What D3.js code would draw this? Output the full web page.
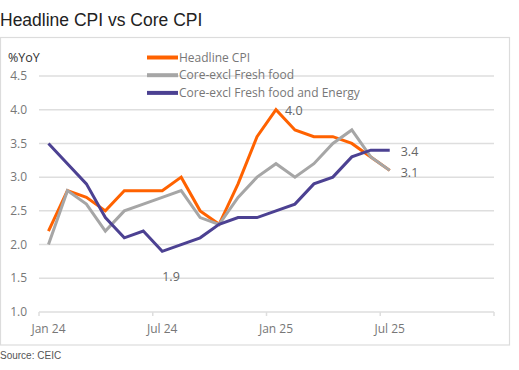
<!DOCTYPE html>
<html>
<head>
<meta charset="utf-8">
<script src="https://cdn.jsdelivr.net/npm/d3@7"></script>
<style>
  body { margin: 0; background: #fff; }
  svg text { font-family: "Open Sans", "Liberation Sans", sans-serif; }
</style>
</head>
<body>
<div id="chart"></div>
<script>
// Monthly data, Jan 24 .. Jul 25
const months = ["Jan 24","Feb 24","Mar 24","Apr 24","May 24","Jun 24","Jul 24","Aug 24","Sep 24","Oct 24","Nov 24","Dec 24",
                "Jan 25","Feb 25","Mar 25","Apr 25","May 25","Jun 25","Jul 25"];
const headline = [2.2,2.8,2.7,2.5,2.8,2.8,2.8,3.0,2.5,2.3,2.9,3.6,4.0,3.7,3.6,3.6,3.5,3.3,3.1];
const coreExFresh = [2.0,2.8,2.6,2.2,2.5,2.6,2.7,2.8,2.4,2.3,2.7,3.0,3.2,3.0,3.2,3.5,3.7,3.3,3.1];
const coreExEnergy = [3.5,3.2,2.9,2.4,2.1,2.2,1.9,2.0,2.1,2.3,2.4,2.4,2.5,2.6,2.9,3.0,3.3,3.4,3.4];

const yTicks = [1.0,1.5,2.0,2.5,3.0,3.5,4.0,4.5];
const xTickMonths = [0,6,12,18,24];
const xTickLabels = ["Jan 24","Jul 24","Jan 25","Jul 25",""];

const series = [
  {name: "Headline CPI", values: headline, color: "#ff6200"},
  {name: "Core-excl Fresh food", values: coreExFresh, color: "#a6a6a6"},
  {name: "Core-excl Fresh food and Energy", values: coreExEnergy, color: "#4c4192"}
];

// annotations: [series index, month index, text, dx, dy]
const notes = [
  [0, 12, "4.0", 9, 1],
  [2, 18, "3.4", 11, 1],
  [1, 18, "3.1", 11, 2],
  [2, 6, "1.9", 0, 25]
];

const W = 519, H = 370;
const svg = d3.select("#chart").append("svg")
  .attr("width", W).attr("height", H);

// title
svg.append("text")
  .attr("x", 0).attr("y", 26)
  .style("font-family", "'Liberation Sans', Arial, sans-serif")
  .style("font-size", "17.5px")
  .style("fill", "#222")
  .text("Headline CPI vs Core CPI");

// frame
svg.append("rect")
  .attr("x", 0.5).attr("y", 37.5)
  .attr("width", 509).attr("height", 307.5)
  .attr("fill", "none")
  .attr("stroke", "#dcdcdc")
  .attr("stroke-width", 1.2);

// source
svg.append("text")
  .attr("x", 0).attr("y", 359)
  .style("font-family", "'Liberation Sans', Arial, sans-serif")
  .style("font-size", "10px")
  .style("fill", "#555")
  .text("Source: CEIC");

const x = d3.scaleLinear().domain([0, 24]).range([39, 494]);
const y = d3.scaleLinear().domain([1, 4.5]).range([312, 76]);

// gridlines
svg.append("g")
  .selectAll("line")
  .data(yTicks)
  .join("line")
    .attr("x1", x(0)).attr("x2", x(24))
    .attr("y1", d => y(d)).attr("y2", d => y(d))
    .attr("stroke", "#dedede")
    .attr("stroke-width", 1.5);

// y axis labels
svg.append("g")
  .selectAll("text")
  .data(yTicks)
  .join("text")
    .attr("x", 27)
    .attr("y", d => y(d))
    .attr("dy", "0.35em")
    .attr("text-anchor", "end")
    .style("font-size", "12px")
    .style("fill", "#777")
    .text(d => d.toFixed(1));

svg.append("text")
  .attr("x", 8).attr("y", 62)
  .style("font-size", "12.5px")
  .style("fill", "#333")
  .text("%YoY");

// x axis ticks
svg.append("g")
  .selectAll("line")
  .data(xTickMonths)
  .join("line")
    .attr("x1", d => x(d)).attr("x2", d => x(d))
    .attr("y1", y(1)).attr("y2", y(1) + 4)
    .attr("stroke", "#dedede")
    .attr("stroke-width", 1.5);

svg.append("g")
  .selectAll("text")
  .data(xTickMonths)
  .join("text")
    .attr("x", d => x(d + 0.5))
    .attr("y", 333)
    .attr("text-anchor", "middle")
    .style("font-size", "12px")
    .style("fill", "#777")
    .text((d, i) => xTickLabels[i]);

// lines
const line = d3.line()
  .x((d, i) => x(i + 0.5))
  .y(d => y(d));

svg.append("g")
  .selectAll("path")
  .data(series)
  .join("path")
    .attr("d", d => line(d.values))
    .attr("fill", "none")
    .attr("stroke", d => d.color)
    .attr("stroke-width", 3)
    .attr("stroke-linejoin", "miter");

// annotations
svg.append("g")
  .selectAll("text")
  .data(notes)
  .join("text")
    .attr("x", d => x(d[1] + 0.5) + d[3])
    .attr("y", d => y(series[d[0]].values[d[1]]) + d[4])
    .attr("dy", "0.35em")
    .style("font-size", "12.5px")
    .style("fill", "#666")
    .text(d => d[2]);

// legend
const legend = svg.append("g")
  .selectAll("g")
  .data(series)
  .join("g")
    .attr("transform", (d, i) => `translate(147, ${57.5 + i * 17.7})`);

legend.append("line")
  .attr("x1", 0).attr("x2", 31)
  .attr("stroke", d => d.color)
  .attr("stroke-width", 4);

legend.append("text")
  .attr("x", 32)
  .attr("dy", "0.35em")
  .style("font-size", "12px")
  .style("fill", "#777")
  .text(d => d.name);
</script>
</body>
</html>
